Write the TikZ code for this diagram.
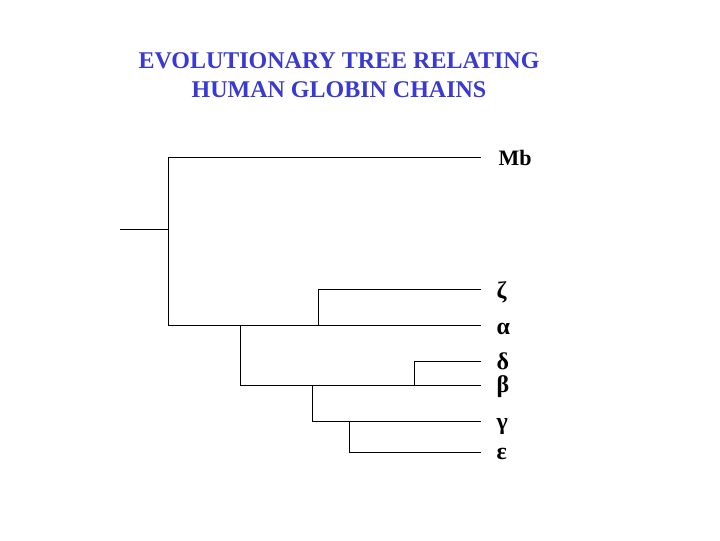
\documentclass[tikz,border=0pt]{standalone}
\usepackage{fontspec}
\setmainfont{Liberation Serif}

\definecolor{titleblue}{RGB}{58,58,210}
\tikzset{every picture/.style={line width=0.75pt}}
\tikzset{
  branch/.style={draw=black, line width=0.75pt},
  leaflabel/.style={anchor=base west, inner sep=0pt, font=\fontsize{16.5}{18}\selectfont\bfseries},
  greeklabel/.style={leaflabel, font=\fontsize{18}{20}\selectfont\bfseries},
  titletext/.style={anchor=center, inner sep=0pt, align=center, text=titleblue, font=\fontsize{18}{21.75}\selectfont\bfseries}
}

\begin{document}
\begin{tikzpicture}[x=0.75pt,y=0.75pt,yscale=-1,xscale=1]
\useasboundingbox (0,0) rectangle (720,540);

% Title
\node (title) [titletext] at (339,75.5) {EVOLUTIONARY TREE RELATING\\HUMAN GLOBIN CHAINS};

% Leaf tips
\coordinate (tipMb) at (481,157.5);
\coordinate (tipZeta) at (481,289.5);
\coordinate (tipAlpha) at (481,325.5);
\coordinate (tipDelta) at (481,361.5);
\coordinate (tipBeta) at (481,385.5);
\coordinate (tipGamma) at (481,421.5);
\coordinate (tipEps) at (481,452.5);

% Inner branch points
\coordinate (root) at (120,229.5);
\coordinate (nTop) at (168.5,229.5);
\coordinate (nZetaAlpha) at (318.5,325.5);
\coordinate (nBetaLine) at (240.5,325.5);
\coordinate (nDeltaBeta) at (414.5,385.5);
\coordinate (nGammaLine) at (312.5,385.5);
\coordinate (nGammaEps) at (349.5,421.5);

% Branches
\draw [branch] (root) -- (nTop);
\draw [branch] (tipMb) -| (nTop) |- (tipAlpha);
\draw [branch] (tipZeta) -| (nZetaAlpha);
\draw [branch] (nBetaLine) |- (tipBeta);
\draw [branch] (tipDelta) -| (nDeltaBeta);
\draw [branch] (nGammaLine) |- (tipGamma);
\draw [branch] (nGammaEps) |- (tipEps);

% Text Node
\node (labMb) [leaflabel] at (498,165) {Mb};
\node (labZeta) [greeklabel] at (496,298) {ζ};
\node (labAlpha) [greeklabel] at (496,334) {α};
\node (labDelta) [greeklabel] at (496,369) {δ};
\node (labBeta) [greeklabel] at (496,392) {β};
\node (labGamma) [greeklabel] at (496,429) {γ};
\node (labEps) [greeklabel] at (496,459) {ε};

\end{tikzpicture}
\end{document}
